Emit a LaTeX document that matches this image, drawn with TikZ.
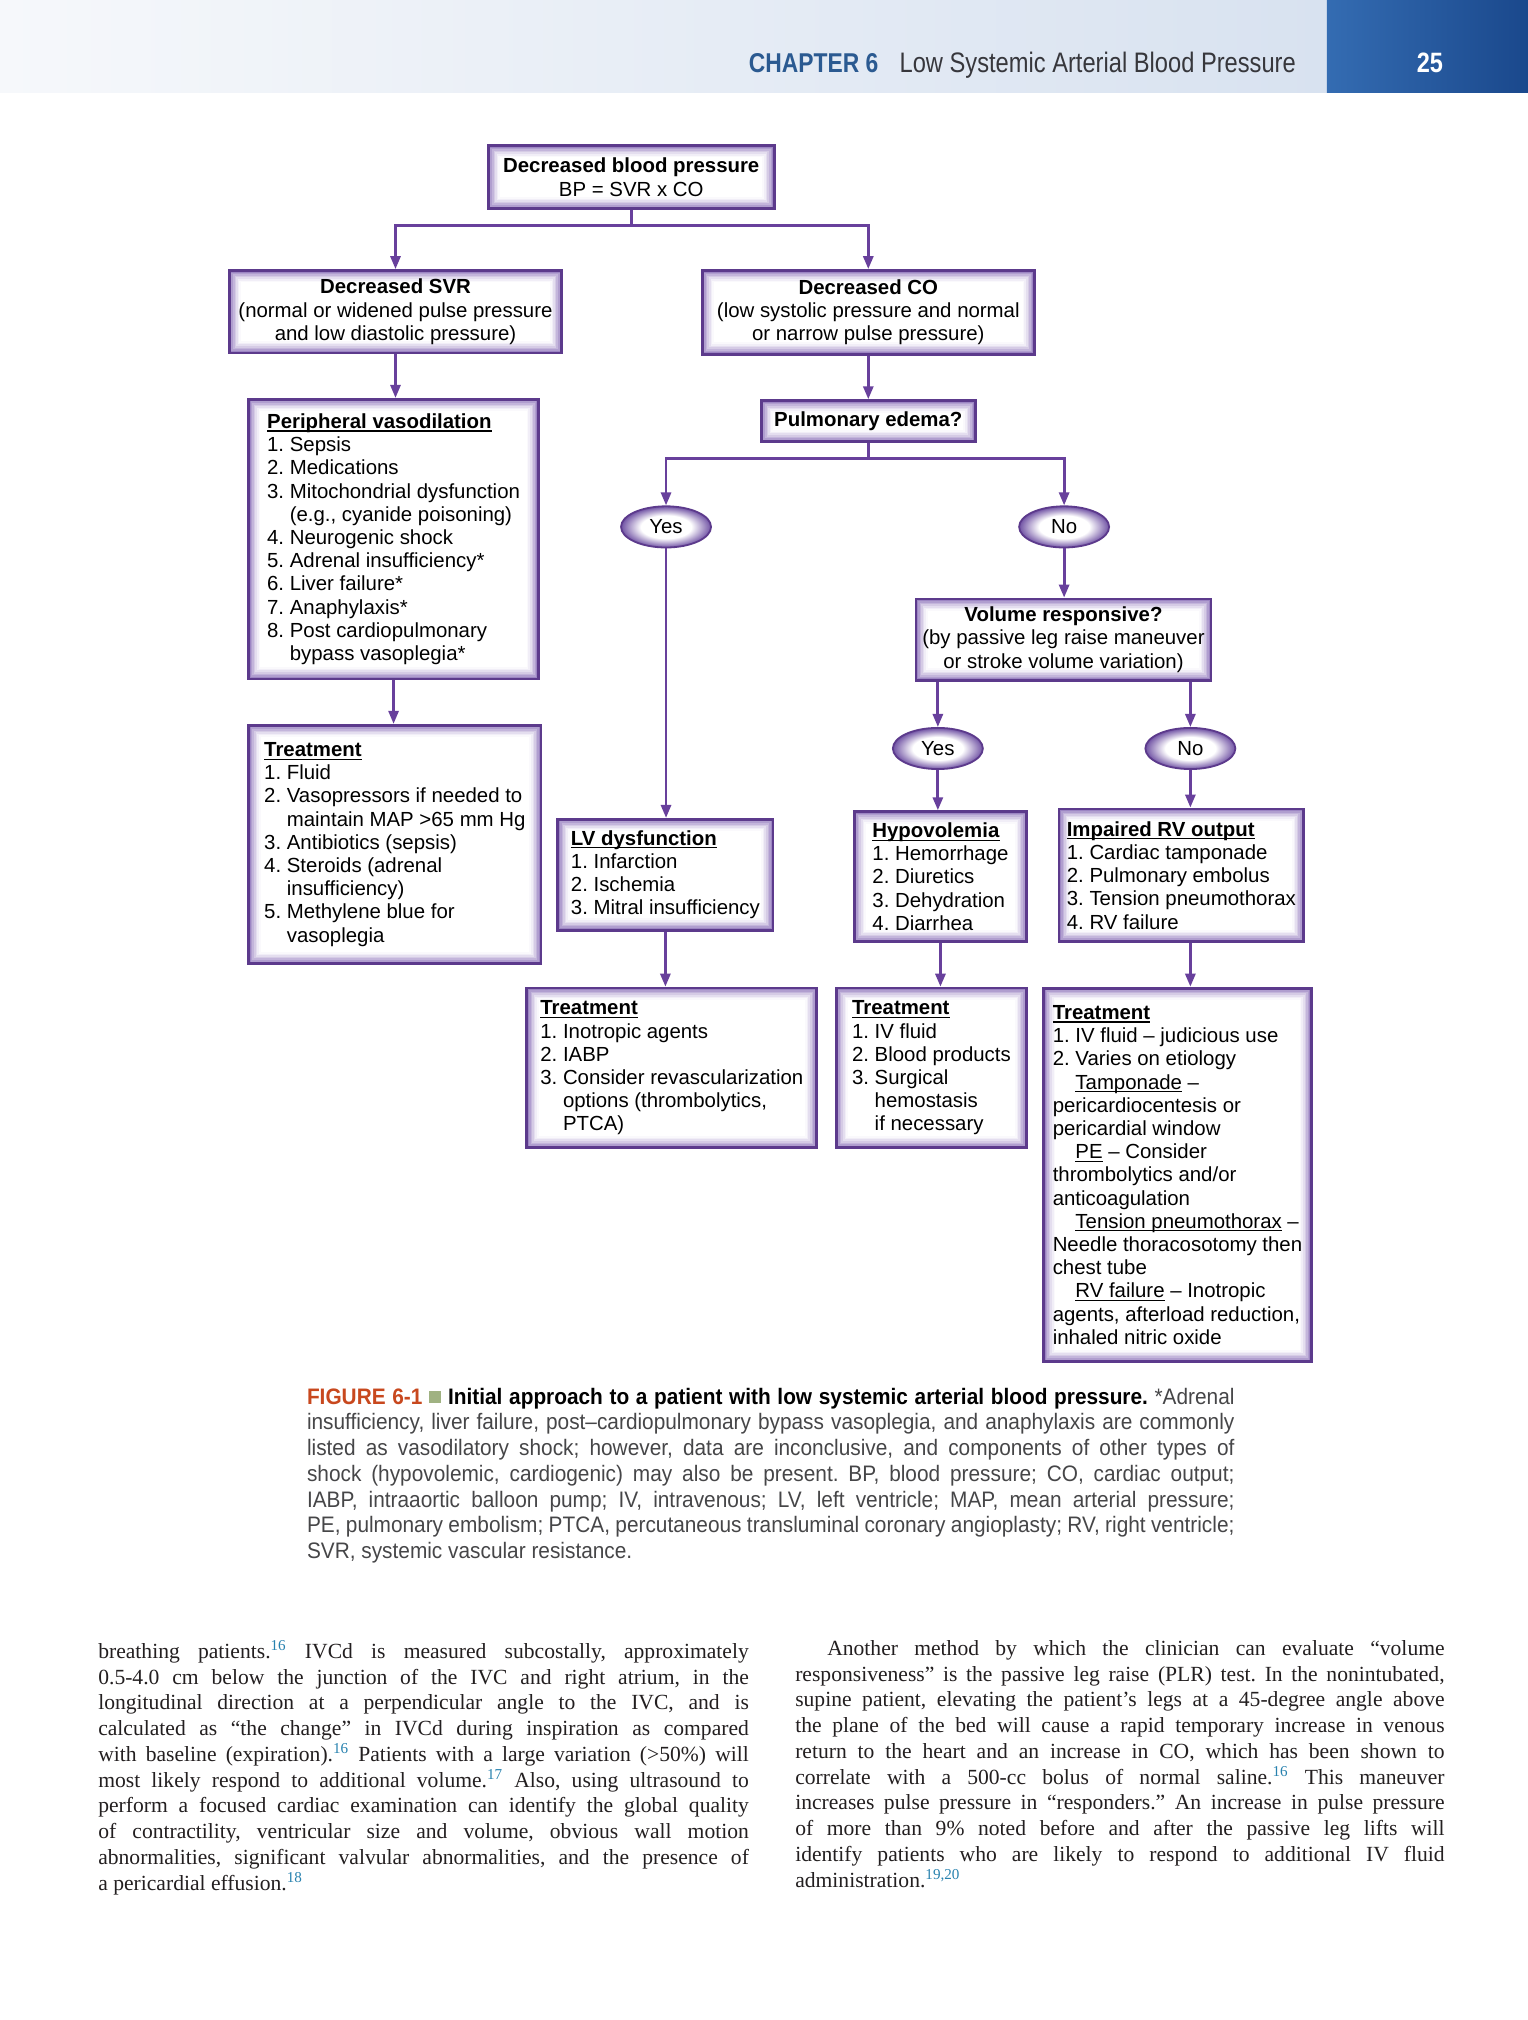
\documentclass[tikz,border=0pt]{standalone}
\usepackage{fontspec}
\setmainfont{Liberation Serif}
\newfontfamily\boxfont{Liberation Sans}
\newfontfamily\condfont[FakeStretch=0.84]{Liberation Sans}
\newfontfamily\capfont[FakeStretch=0.93]{Liberation Sans}
\usetikzlibrary{arrows.meta,shapes.geometric}

\definecolor{boxpurple}{RGB}{92,58,140}
\definecolor{glowpurple}{RGB}{128,98,178}
\definecolor{linepurple}{RGB}{104,64,156}
\definecolor{ellpurple}{RGB}{112,82,164}
\definecolor{chapblue}{RGB}{43,90,145}
\definecolor{headgray}{RGB}{55,55,60}
\definecolor{bandleft}{RGB}{246,248,251}
\definecolor{bandright}{RGB}{216,226,240}
\definecolor{pageblueA}{RGB}{52,108,178}
\definecolor{pageblueB}{RGB}{26,72,140}
\definecolor{figred}{RGB}{200,72,30}
\definecolor{sqgreen}{RGB}{160,178,130}
\definecolor{refblue}{RGB}{40,130,175}
\definecolor{captext}{RGB}{70,70,72}
\definecolor{bodytext}{RGB}{35,31,32}

\pgfdeclareradialshading{yesnoglow}{\pgfpoint{0bp}{0bp}}{color(0bp)=(white); color(14bp)=(white); color(25bp)=(ellpurple); color(50bp)=(ellpurple)}

% list helpers
\newcommand{\itm}[1]{\makebox[1.112em][l]{#1.}}
\newcommand{\ind}{\hspace*{1.112em}}
\newcommand{\reff}[1]{\textsuperscript{\textcolor{refblue}{#1}}}
\newcommand{\ul}[1]{\setbox0\hbox{#1}\rlap{\rule[-1.6pt]{\wd0}{0.6pt}}\box0\relax}
\newcommand{\head}[1]{\ul{\textbf{#1}}}

\tikzset{
  box/.style={draw=boxpurple, line width=1.4pt, fill=white, inner sep=2pt,
    text=black, font=\boxfont\fontsize{10.2}{11.6}\selectfont,
    path picture={
      \foreach \k/\c in {0/78,1/62,2/47,3/33,4/21,5/11,6/4}{
        \pgfmathsetmacro\d{0.7+0.8*\k}
        \draw[line width=0.9pt, glowpurple!\c]
          ([shift={(\d pt,\d pt)}]path picture bounding box.south west) rectangle
          ([shift={(-\d pt,-\d pt)}]path picture bounding box.north east);
      }
    }},
  listbox/.style={box, align=left},
  headbox/.style={box, align=center},
  yesno/.style={ellipse, draw=boxpurple, line width=0.9pt, shade, shading=yesnoglow,
    minimum width=45pt, minimum height=20.6pt, inner sep=0pt,
    font=\boxfont\fontsize{10.2}{11.6}\selectfont},
  link/.style={draw=linepurple, line width=1.4pt},
  arr/.style={link, -{Triangle[width=5pt,length=6.5pt]}}
}

\begin{document}
\begin{tikzpicture}[x=0.6442pt, y=-0.6442pt]
\useasboundingbox (0,0) rectangle (1186,1568);
\fill[white] (0,0) rectangle (1186,1568);

% running head
\shade[left color=bandleft, right color=bandright] (0,0) rectangle (1030,72);
\shade[left color=pageblueA, right color=pageblueB] (1030,0) rectangle (1186,72);
\node[anchor=base west, inner sep=0pt, text=chapblue, font=\condfont\bfseries\fontsize{13.6}{16}\selectfont] (chap) at (581,56) {CHAPTER 6};
\node[anchor=base west, inner sep=0pt, text=headgray, font=\condfont\fontsize{14.1}{16}\selectfont] (chaptitle) at (698,56) {Low Systemic Arterial Blood Pressure};
\node[anchor=base, inner sep=0pt, text=white, font=\condfont\bfseries\fontsize{14}{16}\selectfont] (pagenum) at (1110,56) {25};

% first level
\node[headbox, minimum width=143pt, minimum height=31.6pt] (bp) at (490,137.5) {\textbf{Decreased blood pressure}\\BP = SVR x CO};
\node[headbox, minimum width=166.2pt, minimum height=41.2pt] (svr) at (307,242) {\textbf{Decreased SVR}\\(normal or widened pulse pressure\\and low diastolic pressure)};
\node[headbox, minimum width=166.2pt, minimum height=41.9pt] (co) at (674,242.5) {\textbf{Decreased CO}\\(low systolic pressure and normal\\or narrow pulse pressure)};

% SVR branch
\node[listbox, minimum width=145pt, minimum height=139.8pt] (vaso) at (305.5,418.5) {\head{Peripheral vasodilation}\\
  \itm{1}Sepsis\\ \itm{2}Medications\\ \itm{3}Mitochondrial dysfunction\\ \ind(e.g., cyanide poisoning)\\
  \itm{4}Neurogenic shock\\ \itm{5}Adrenal insufficiency*\\ \itm{6}Liver failure*\\ \itm{7}Anaphylaxis*\\
  \itm{8}Post cardiopulmonary\\ \ind bypass vasoplegia*};
\node[listbox, minimum width=146.2pt, minimum height=119.2pt] (treatsvr) at (306.5,655.5) {\head{Treatment}\\
  \itm{1}Fluid\\ \itm{2}Vasopressors if needed to\\ \ind maintain MAP >65 mm Hg\\ \itm{3}Antibiotics (sepsis)\\
  \itm{4}Steroids (adrenal\\ \ind insufficiency)\\ \itm{5}Methylene blue for\\ \ind vasoplegia};

% CO branch
\node[headbox, minimum width=107pt, minimum height=20.6pt] (edema) at (674,327) {\textbf{Pulmonary edema?}};
\node[yesno] (yes1) at (517,409) {Yes};
\node[yesno] (no1) at (826,409) {No};
\node[headbox, minimum width=147.5pt, minimum height=40.6pt] (volresp) at (825.5,496.5) {\textbf{Volume responsive?}\\(by passive leg raise maneuver\\or stroke volume variation)};
\node[yesno] (yes2) at (728,581) {Yes};
\node[yesno] (no2) at (924,581) {No};

\node[listbox, minimum width=107.6pt, minimum height=55.4pt] (lvdys) at (516.5,679) {\head{LV dysfunction}\\
  \itm{1}Infarction\\ \itm{2}Ischemia\\ \itm{3}Mitral insufficiency};
\node[listbox, minimum width=86.3pt, minimum height=65pt] (hypo) at (730,680.5) {\head{Hypovolemia}\\
  \itm{1}Hemorrhage\\ \itm{2}Diuretics\\ \itm{3}Dehydration\\ \itm{4}Diarrhea};
\node[listbox, minimum width=122.4pt, minimum height=66.4pt] (rvout) at (917,679.5) {\head{Impaired RV output}\\
  \itm{1}Cardiac tamponade\\ \itm{2}Pulmonary embolus\\ \itm{3}Tension pneumothorax\\ \itm{4}RV failure};

% treatments
\node[listbox, minimum width=145pt, minimum height=79.9pt] (treatlv) at (521.5,829) {\head{Treatment}\\
  \itm{1}Inotropic agents\\ \itm{2}IABP\\ \itm{3}Consider revascularization\\ \ind options (thrombolytics,\\ \ind PTCA)};
\node[listbox, minimum width=95.3pt, minimum height=79.9pt] (treathypo) at (723,829) {\head{Treatment}\\
  \itm{1}IV fluid\\ \itm{2}Blood products\\ \itm{3}Surgical\\ \ind hemostasis\\ \ind if necessary};
\node[listbox, minimum width=134pt, minimum height=186.8pt] (treatrv) at (914,912) {\head{Treatment}\\
  \itm{1}IV fluid – judicious use\\ \itm{2}Varies on etiology\\
  \ind\ul{Tamponade} –\\ pericardiocentesis or\\ pericardial window\\
  \ind\ul{PE} – Consider\\ thrombolytics and/or\\ anticoagulation\\
  \ind\ul{Tension pneumothorax} –\\ Needle thoracosotomy then\\ chest tube\\
  \ind\ul{RV failure} – Inotropic\\ agents, afterload reduction,\\ inhaled nitric oxide};

% connectors
\coordinate (split1) at (490,175);
\coordinate (split2) at (674,356);
\draw[link] (bp.south) -- (split1);
\draw[arr] (split1) -| (svr.north);
\draw[arr] (split1) -| (co.north);
\draw[arr] (svr.south) -- (svr.south |- vaso.north);
\draw[arr] (vaso.south) -- (vaso.south |- treatsvr.north);
\draw[arr] (co.south) -- (edema.north);
\draw[link] (edema.south) -- (split2);
\draw[arr] (split2) -| (yes1.north);
\draw[arr] (split2) -| (no1.north);
\draw[arr] (yes1.south) -- (yes1.south |- lvdys.north);
\draw[arr] (no1.south) -- (no1.south |- volresp.north);
\draw[arr] (yes2 |- volresp.south) -- (yes2.north);
\draw[arr] (no2 |- volresp.south) -- (no2.north);
\draw[arr] (yes2.south) -- (yes2.south |- hypo.north);
\draw[arr] (no2.south) -- (no2.south |- rvout.north);
\draw[arr] (lvdys.south) -- (lvdys.south |- treatlv.north);
\draw[arr] (hypo.south) -- (hypo.south |- treathypo.north);
\draw[arr] (no2 |- rvout.south) -- (no2 |- treatrv.north);

% caption
\node[anchor=north west, inner sep=0pt, text width=463.8pt, align=justify, text=captext,
  font=\capfont\fontsize{11.2}{12.88}\selectfont] (caption) at (238,1077) {\noindent\frenchspacing
  {\color{figred}\bfseries FIGURE 6-1} \textcolor{sqgreen}{\rule[0.05em]{0.55em}{0.55em}} {\color{black}\bfseries Initial approach to a patient with low systemic arterial blood pressure.} *Adrenal\linebreak
  insufficiency, liver failure, post–cardiopulmonary bypass vasoplegia, and anaphylaxis are commonly\linebreak
  listed as vasodilatory shock; however, data are inconclusive, and components of other types of\linebreak
  shock (hypovolemic, cardiogenic) may also be present. BP, blood pressure; CO, cardiac output;\linebreak
  IABP, intraaortic balloon pump; IV, intravenous; LV, left ventricle; MAP, mean arterial pressure;\linebreak
  PE, pulmonary embolism; PTCA, percutaneous transluminal coronary angioplasty; RV, right ventricle;\linebreak
  SVR, systemic vascular resistance.};

% body text
\node[anchor=north west, inner sep=0pt, text width=325.3pt, align=justify, text=bodytext,
  font=\fontsize{10.8}{12.88}\selectfont] (leftcol) at (76,1273) {\noindent\frenchspacing
  breathing patients.\reff{16} IVCd is measured subcostally, approximately\linebreak
  0.5-4.0 cm below the junction of the IVC and right atrium, in the\linebreak
  longitudinal direction at a perpendicular angle to the IVC, and is\linebreak
  calculated as “the change” in IVCd during inspiration as compared\linebreak
  with baseline (expiration).\reff{16} Patients with a large variation (>50\%) will\linebreak
  most likely respond to additional volume.\reff{17} Also, using ultrasound to\linebreak
  perform a focused cardiac examination can identify the global quality\linebreak
  of contractility, ventricular size and volume, obvious wall motion\linebreak
  abnormalities, significant valvular abnormalities, and the presence of\linebreak
  a pericardial effusion.\reff{18}};
\node[anchor=north west, inner sep=0pt, text width=324.7pt, align=justify, text=bodytext,
  font=\fontsize{10.8}{12.88}\selectfont] (rightcol) at (617,1273) {\noindent\frenchspacing\hspace*{16pt}%
  Another method by which the clinician can evaluate “volume\linebreak
  responsiveness” is the passive leg raise (PLR) test. In the nonintubated,\linebreak
  supine patient, elevating the patient’s legs at a 45-degree angle above\linebreak
  the plane of the bed will cause a rapid temporary increase in venous\linebreak
  return to the heart and an increase in CO, which has been shown to\linebreak
  correlate with a 500-cc bolus of normal saline.\reff{16} This maneuver\linebreak
  increases pulse pressure in “responders.” An increase in pulse pressure\linebreak
  of more than 9\% noted before and after the passive leg lifts will\linebreak
  identify patients who are likely to respond to additional IV fluid\linebreak
  administration.\reff{19,20}};
\end{tikzpicture}
\end{document}
